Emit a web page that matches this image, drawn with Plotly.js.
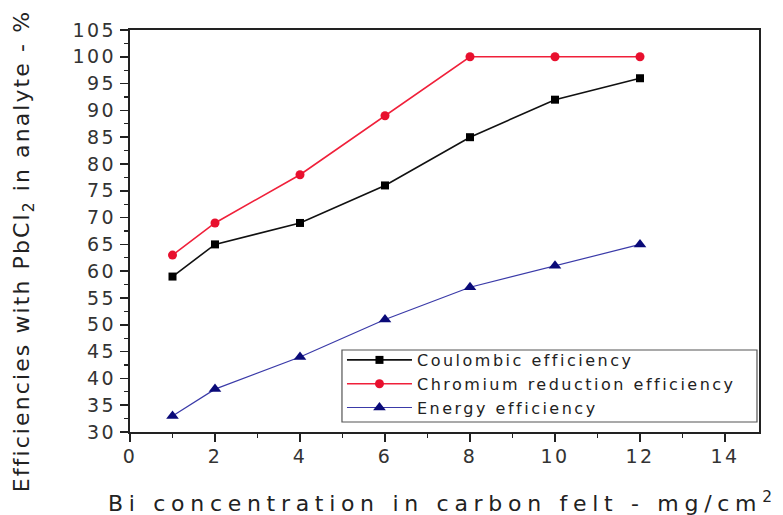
<!DOCTYPE html>
<html>
<head>
<meta charset="utf-8">
<script src="https://cdn.plot.ly/plotly-3.0.1.min.js"></script>
<style>
html,body{margin:0;padding:0;background:#fff;}
#chart{width:783px;height:515px;}
.legendtext{letter-spacing:2.5px;}
#chart .xtick text, #chart .ytick text{letter-spacing:2.5px;}
#chart .annotation[data-index="0"] .annotation-text{letter-spacing:5.7px;}
#chart .annotation[data-index="1"] .annotation-text{letter-spacing:2.1px;}
</style>
</head>
<body>
<div id="chart"></div>
<script>
const biConc = [1, 2, 4, 6, 8, 10, 12];
const coulombic = [59, 65, 69, 76, 85, 92, 96];
const chromium = [63, 69, 78, 89, 100, 100, 100];
const energy = [33, 38, 44, 51, 57, 61, 65];
const seriesNames = ["Coulombic efficiency", "Chromium reduction efficiency", "Energy efficiency"];
const xTitle = "Bi concentration in carbon felt - mg/cm<sup>2</sup>";
const yTitle = "Efficiencies with PbCl<sub>2</sub> in analyte - %";

const font = "DejaVu Sans, Liberation Sans, Arial, sans-serif";
const traces = [
  {x: biConc, y: coulombic, name: seriesNames[0], mode: "lines+markers",
   line: {color: "#111111", width: 1.6}, marker: {symbol: "square", size: 8, color: "#000000"}},
  {x: biConc, y: chromium, name: seriesNames[1], mode: "lines+markers",
   line: {color: "#f0203a", width: 1.6}, marker: {symbol: "circle", size: 9, color: "#e8102e"}},
  {x: biConc, y: energy, name: seriesNames[2], mode: "lines+markers",
   line: {color: "#3a3aa8", width: 1.2}, marker: {symbol: "triangle-up", size: 11, color: "#0a0a78"}}
];
const layout = {
  width: 783, height: 515,
  margin: {l: 130, r: 24, t: 30, b: 83},
  paper_bgcolor: "#fff", plot_bgcolor: "#fff",
  font: {family: font, color: "#222"},
  showlegend: true,
  legend: {x: 0.337, y: 0.2214, xanchor: "left", yanchor: "top",
    bgcolor: "rgba(0,0,0,0)", borderwidth: 0,
    font: {family: font, size: 16, color: "#222"}, tracegroupgap: 0, itemwidth: 65},
  shapes: [{type: "rect", xref: "paper", yref: "paper", layer: "below",
    x0: 0.337, x1: 0.9968, y0: 0.0249, y1: 0.204,
    fillcolor: "#fff", line: {color: "#555", width: 1.2}}],
  annotations: [
    {text: xTitle, xref: "paper", yref: "paper", x: 0.497, y: -0.175,
     xanchor: "center", yanchor: "middle", showarrow: false,
     font: {size: 22, family: font, color: "#222"}},
    {text: yTitle, xref: "paper", yref: "paper", x: -0.170, y: 0.450,
     xanchor: "center", yanchor: "middle", showarrow: false, textangle: -90,
     font: {size: 22, family: font, color: "#222"}}
  ],
  xaxis: {range: [0, 14.8], dtick: 2, tick0: 0, showgrid: false, zeroline: false,
    showline: true, linecolor: "#222", linewidth: 2, mirror: true,
    ticks: "outside", ticklen: 8, tickwidth: 1.5, tickcolor: "#222", ticklabelstandoff: -2,
    minor: {dtick: 1, ticks: "outside", ticklen: 4, tickwidth: 1.2, tickcolor: "#222", showgrid: false},
    tickfont: {size: 19, family: font, color: "#333"}},
  yaxis: {range: [30, 105], dtick: 5, tick0: 30, showgrid: false, zeroline: false,
    showline: true, linecolor: "#222", linewidth: 2, mirror: true,
    ticks: "outside", ticklen: 8, tickwidth: 1.5, tickcolor: "#222",
    minor: {dtick: 2.5, ticks: "outside", ticklen: 4, tickwidth: 1.2, tickcolor: "#222", showgrid: false},
    tickfont: {size: 19, family: font, color: "#333"}}
};
Plotly.newPlot("chart", traces, layout, {staticPlot: true, displayModeBar: false});
</script>
</body>
</html>
